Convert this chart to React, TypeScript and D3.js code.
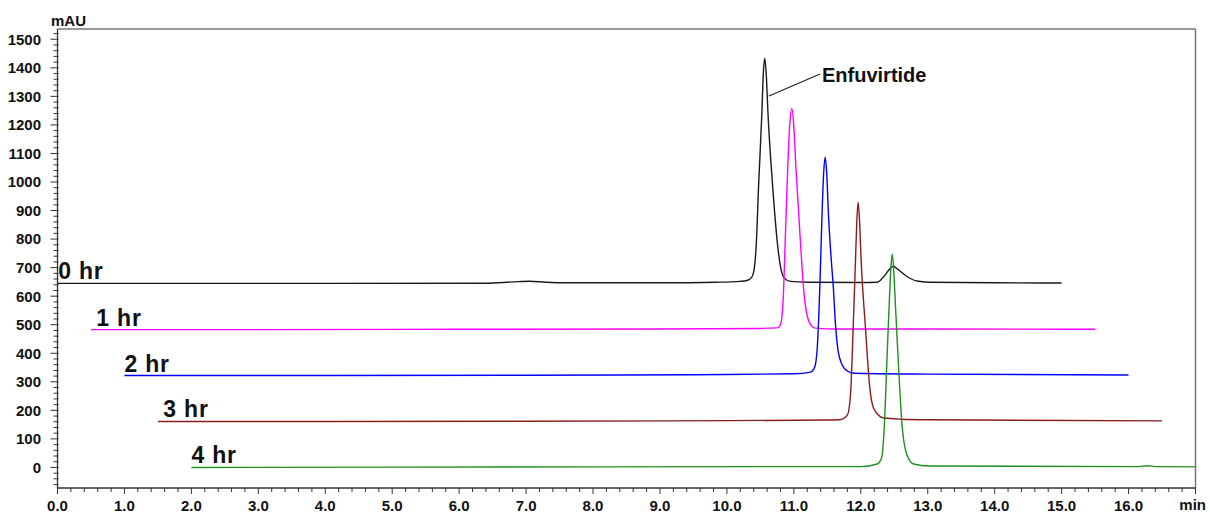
import React from "react";
import * as d3 from "d3";

// ---- Data (time in min, absorbance in mAU, already offset as displayed) ----
const trace0hr: [number, number][] = [
  [0, 645], [2, 645], [4, 645], [6.4, 645.5], [6.8, 650], [7.05, 652.5], [7.3, 649], [7.6, 647],
  [9.0, 647], [9.85, 649], [10.2, 652], [10.3, 655], [10.37, 666], [10.40, 685], [10.436, 770],
  [10.475, 996], [10.52, 1229], [10.545, 1385], [10.565, 1434], [10.588, 1375], [10.616, 1229],
  [10.68, 996], [10.765, 762], [10.80, 704], [10.85, 665], [10.95, 652], [11.2, 649], [12.0, 648],
  [12.245, 649], [12.345, 669], [12.42, 692], [12.485, 705], [12.55, 695], [12.69, 669],
  [12.84, 653], [13.01, 649], [14.0, 647], [15.0, 646],
];
const trace1hr: [number, number][] = [
  [0.5, 483], [3, 483], [6, 484], [9, 485], [10.5, 487], [10.75, 489], [10.80, 500], [10.84, 587],
  [10.875, 821], [10.909, 1054], [10.94, 1205], [10.969, 1258], [10.998, 1200], [11.03, 1054],
  [11.09, 821], [11.15, 615], [11.2, 530], [11.26, 497], [11.32, 488], [11.65, 485], [13, 485],
  [15.5, 484],
];
const trace2hr: [number, number][] = [
  [1.0, 322], [4, 322], [7, 323], [9.5, 325], [11.0, 328], [11.25, 334], [11.31, 350], [11.35, 420],
  [11.39, 645], [11.42, 879], [11.445, 1030], [11.468, 1087], [11.49, 1035], [11.516, 890],
  [11.555, 740], [11.59, 630], [11.625, 490], [11.66, 410], [11.72, 360], [11.8, 338], [11.9, 330],
  [13, 327], [16.0, 324],
];
const trace3hr: [number, number][] = [
  [1.5, 161], [4, 161], [7, 162], [10, 164], [11.5, 166], [11.70, 168], [11.80, 184], [11.846, 254],
  [11.886, 488], [11.92, 721], [11.94, 860], [11.96, 929], [11.98, 870], [12.006, 721], [12.07, 488],
  [12.135, 278], [12.19, 208], [12.29, 178], [12.345, 173], [12.6, 169], [13.04, 167], [16.5, 163],
];
const trace4hr: [number, number][] = [
  [2.0, 0], [5, 1], [8, 2], [11, 3], [12.0, 3], [12.245, 12], [12.31, 33], [12.35, 138], [12.39, 371],
  [12.43, 605], [12.45, 700], [12.47, 747], [12.49, 700], [12.51, 605], [12.56, 371], [12.62, 138],
  [12.69, 44], [12.79, 12], [13.02, 5], [16.15, 3], [16.28, 6], [16.4, 3], [17.0, 2],
];

const seriesNames = ["0 hr", "1 hr", "2 hr", "3 hr", "4 hr"];
const seriesData = [trace0hr, trace1hr, trace2hr, trace3hr, trace4hr];
const xTickValues = [0, 1, 2, 3, 4, 5, 6, 7, 8, 9, 10, 11, 12, 13, 14, 15, 16];
const yTickValues = [0, 100, 200, 300, 400, 500, 600, 700, 800, 900, 1000, 1100, 1200, 1300, 1400, 1500];
const peakLabel = "Enfuvirtide";

// ---- Styles / layout ----
const colors = ["#1a1a1a", "#ff00ff", "#0000ff", "#8b1c1c", "#1f8f1f"];
const labelAnchors: [number, number][] = [
  [0.01, 645], [0.58, 483], [1.0, 322], [1.58, 161], [2.0, 0],
];
const W = 1210, H = 513;
const L = 57.5, R = 1195.5, T = 29, B = 488;
const FONT = "'Liberation Sans', Arial, Helvetica, sans-serif";

export default function App() {
  const x = d3.scaleLinear().domain([0, 17]).range([L, R]);
  const y = d3.scaleLinear().domain([-72, 1536]).range([B, T]);
  const line = d3
    .line<[number, number]>()
    .x((d) => x(d[0]))
    .y((d) => y(d[1]))
    .curve(d3.curveMonotoneX);

  const xMinor = d3.range(0, 17.0001, 0.2);
  const yMinor = d3.range(-60, 1536, 20);

  return (
    <svg
      width={W}
      height={H}
      style={{ position: "absolute", left: 0, top: 0, background: "#fff" }}
      fontFamily={FONT}
    >
      <defs>
        <clipPath id="plotclip">
          <rect x={L} y={T} width={R - L} height={B - T} />
        </clipPath>
      </defs>
      {/* frame */}
      <line x1={L} x2={R} y1={T} y2={T} stroke="#777" strokeWidth={1.5} />
      <line x1={R} x2={R} y1={T} y2={B} stroke="#777" strokeWidth={1.5} />
      <line x1={L} x2={R} y1={B} y2={B} stroke="#333" strokeWidth={1.3} />
      <line x1={L} x2={L} y1={T} y2={B} stroke="#333" strokeWidth={1.3} />

      {/* y ticks */}
      {yMinor.map((v) => {
        const major = Math.abs(v % 100) < 1e-6;
        return (
          <line key={"ym" + v} x1={major ? L - 7 : L - 4} x2={L + 1} y1={y(v)} y2={y(v)} stroke="#333" strokeWidth={1} />
        );
      })}
      {yTickValues.map((v) => (
        <text key={"yl" + v} x={41} y={y(v)} dy="0.36em" textAnchor="end" fontSize={15} fontWeight="bold" fill="#111">
          {v}
        </text>
      ))}
      <text x={51} y={26} fontSize={15} fontWeight="bold" fill="#111">mAU</text>

      {/* x ticks */}
      {xMinor.map((v, i) => {
        const major = i % 5 === 0;
        return (
          <line key={"xm" + i} x1={x(v)} x2={x(v)} y1={B} y2={B + (major ? 6 : 4)} stroke="#333" strokeWidth={1} />
        );
      })}
      {xTickValues.map((v) => (
        <text key={"xl" + v} x={x(v)} y={511} textAnchor="middle" fontSize={15} fontWeight="bold" fill="#111">
          {v.toFixed(1)}
        </text>
      ))}
      <text x={1206} y={510} textAnchor="end" fontSize={15} fontWeight="bold" fill="#111">min</text>

      {/* traces */}
      <g clipPath="url(#plotclip)">
        {seriesData.map((d, i) => (
          <path key={"tr" + i} d={line(d) || ""} fill="none" stroke={colors[i]} strokeWidth={1.4} />
        ))}
      </g>

      {/* trace labels */}
      {seriesNames.map((n, i) => (
        <text
          key={"lab" + i}
          x={x(labelAnchors[i][0])}
          y={y(labelAnchors[i][1]) - 4}
          fontSize={23}
          fontWeight="bold"
          letterSpacing={0.8}
          fill="#111"
        >
          {n}
        </text>
      ))}

      {/* annotation */}
      <line x1={820} y1={74} x2={769} y2={96} stroke="#222" strokeWidth={1.3} />
      <text x={822} y={82} fontSize={20} fontWeight="bold" fill="#111">{peakLabel}</text>
    </svg>
  );
}
